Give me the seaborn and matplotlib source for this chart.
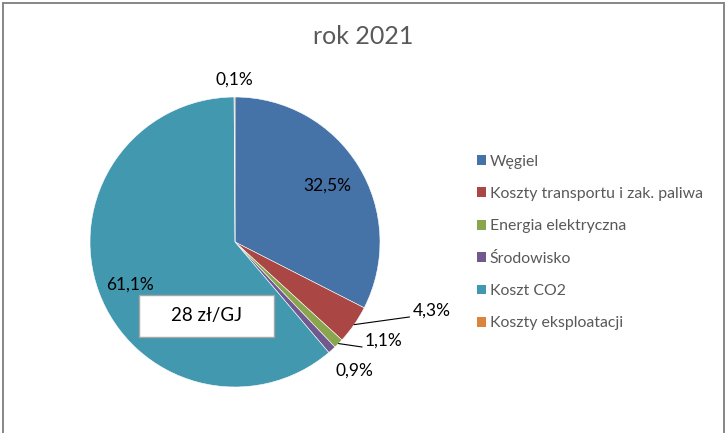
import numpy as np
import seaborn as sns
import matplotlib.pyplot as plt
from matplotlib.patches import Patch, Rectangle
from matplotlib.transforms import offset_copy

categories = ["Węgiel", "Koszty transportu i zak. paliwa", "Energia elektryczna",
              "Środowisko", "Koszt CO2", "Koszty eksploatacji"]
shares = [32.5, 4.3, 1.1, 0.9, 61.1, 0.1]
pct_labels = ["32,5%", "4,3%", "1,1%", "0,9%", "61,1%", "0,1%"]
title = "rok 2021"
box_text = "28 zł/GJ"

colors = sns.color_palette(["#4572A7", "#AA4643", "#89A54E", "#71588F", "#4198AF", "#DB843D"])

sns.set_theme(style="white")
plt.rcParams["font.family"] = ["Lato", "DejaVu Sans"]

W, H = 726, 433
fig = plt.figure(figsize=(W / 100, H / 100), dpi=100)

# pie centre (235, 242) px, radius 145 px
cx, cy, r = 235, 242, 145
ax = fig.add_axes([0, 0, 470 / W, 1])
ax.pie(shares, colors=colors, startangle=90, counterclock=False, radius=1,
       wedgeprops={"edgecolor": "white", "linewidth": 0.4})
ax.set_xlim(-cx / r, (470 - cx) / r)
ax.set_ylim(-(H - cy) / r, cy / r)
ax.set_aspect("auto")
ax.axis("off")

# label placement: (radius factor, angle offset deg, leader line)
place = [(0.75, 0, False), (1.31, 11.5, True), (1.137, 4.9, True),
         (1.21, 1, False), (0.78, 2, False), (1.12, 0, False)]
cum = np.cumsum([0] + shares)
for i, txt in enumerate(pct_labels):
    mid = np.deg2rad(90 - (cum[i] + shares[i] / 2) * 3.6)
    rf, off, lead = place[i]
    a = mid + np.deg2rad(off)
    tx, ty = rf * np.cos(a), rf * np.sin(a)
    if lead:
        ex, ey = np.cos(mid), np.sin(mid)
        ax.plot([ex, tx], [ey, ty], color="black", lw=0.8)
        tr = offset_copy(ax.transData, fig=fig, x=2, y=4.5, units="points")
        ax.text(tx, ty, txt, ha="left", va="center", fontsize=12.5, color="black",
                transform=tr)
    else:
        ax.text(tx, ty, txt, ha="center", va="center", fontsize=12.5, color="black")

# value box
bx, by, bw, bh = -0.197, -0.51, 0.93, 0.29
ax.add_patch(Rectangle((bx - bw / 2, by - bh / 2), bw, bh, fc="white", ec="#A6A6A6",
                       lw=1, zorder=3))
ax.text(bx, by, box_text, ha="center", va="center", fontsize=13.5, color="black", zorder=4)

fig.text(0.5, 1 - 37 / H, title, ha="center", va="center", fontsize=18, color="#595959")

handles = [Patch(facecolor=c, edgecolor="none") for c in colors]
fig.legend(handles, categories, loc="center left", bbox_to_anchor=(477 / W, 1 - 242.5 / H),
           frameon=False, fontsize=11.4, labelcolor="#595959", handlelength=0.57,
           handleheight=0.57, handletextpad=0.25, labelspacing=1.16, borderpad=0,
           borderaxespad=0)

fig.add_artist(Rectangle((3 / W, -0.05), 721 / W, 1.05 - 3 / H, transform=fig.transFigure,
                         fill=False, ec="#868686", lw=1.4))

fig.savefig("out.png", dpi=100)
